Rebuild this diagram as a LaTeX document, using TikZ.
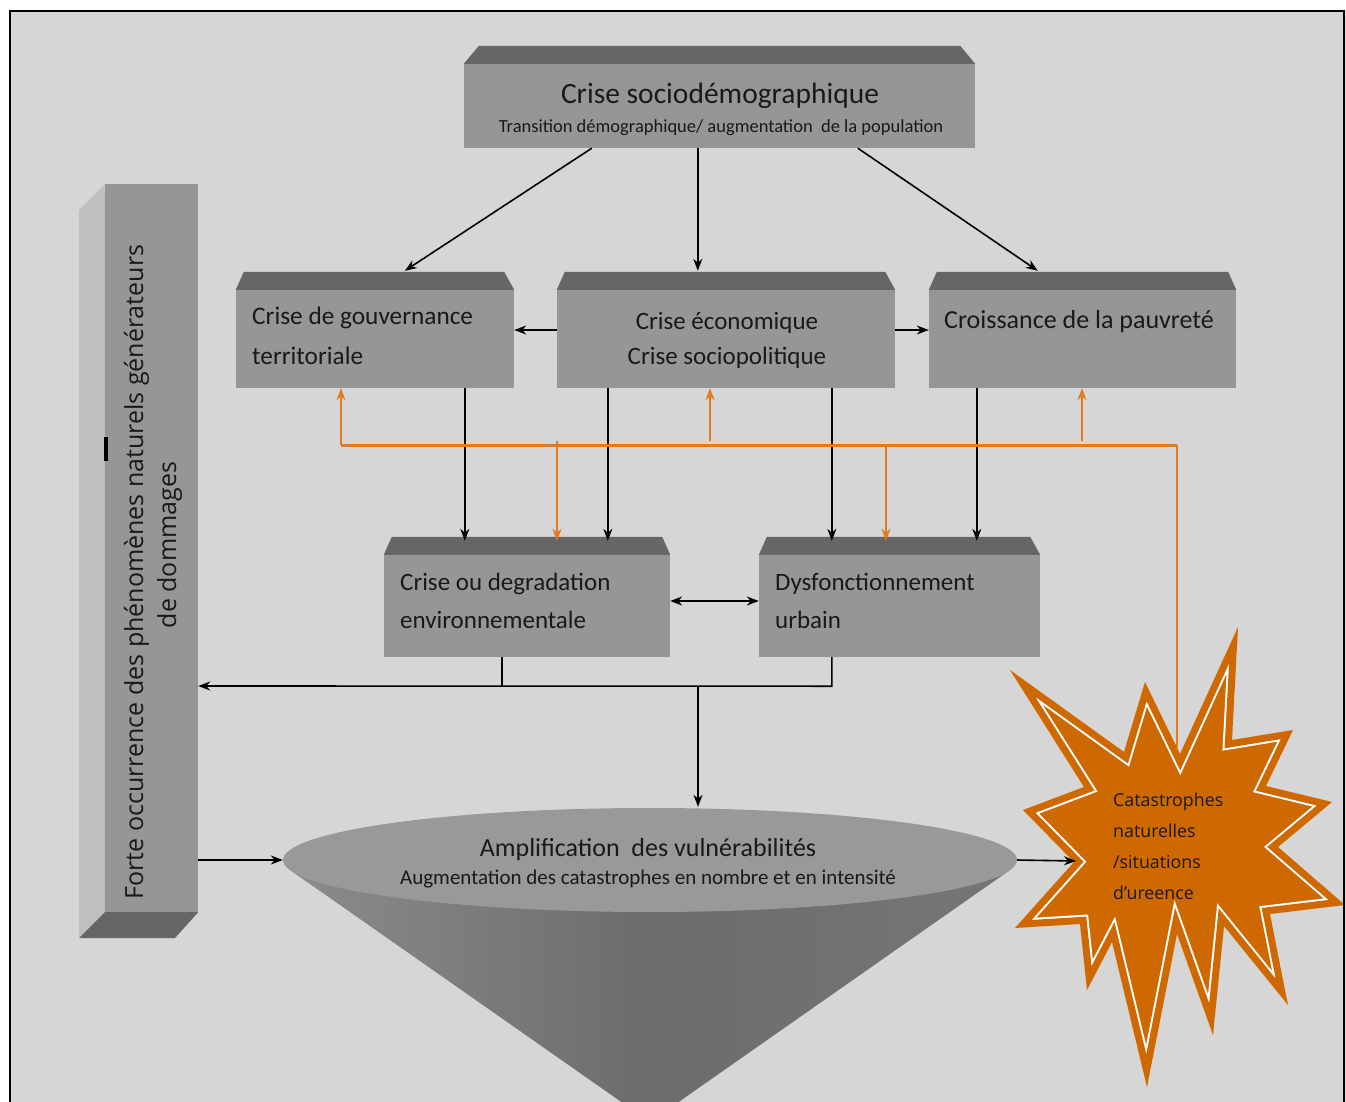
\documentclass[tikz,border=0pt]{standalone}
\usepackage{fontspec}
\setmainfont{Carlito}
\newfontfamily\osans{Open Sans}
\usetikzlibrary{arrows.meta,calc,shapes.geometric}
\definecolor{bg}{RGB}{214,214,214}
\definecolor{frontc}{RGB}{150,150,150}
\definecolor{topc}{RGB}{102,102,102}
\definecolor{sidec}{RGB}{191,191,191}
\definecolor{orl}{RGB}{226,122,30}
\definecolor{starc}{RGB}{206,104,0}
\definecolor{txtc}{RGB}{28,24,24}
\definecolor{ellc}{RGB}{153,153,153}
\definecolor{coneL}{RGB}{140,140,140}
\definecolor{coneM}{RGB}{108,108,108}
\definecolor{coneR}{RGB}{118,118,118}
\newcommand\boxtop[3]{\fill[topc] (#1.north west) -- ++(#2,-18) -- ($(#1.north east)+(-#3,-18)$) -- (#1.north east) -- cycle;}
\newcommand\starpoly[1]{\path[#1] (1010,670) -- (1124,752) -- (1145,682) -- (1180,754) -- (1238,627) -- (1232,740) -- (1293,730) -- (1266,786) -- (1332,802) -- (1278,847) -- (1345,905) -- (1270,914) -- (1288,1005) -- (1224,926) -- (1213,1035) -- (1177,934) -- (1147,1087) -- (1112,942) -- (1087,990) -- (1080,924) -- (1015,928) -- (1074,862) -- (1023,810) -- (1084,787) -- cycle;}
\begin{document}
\begin{tikzpicture}[x=1pt,y=-1pt,
  line/.style={black, line width=1.6pt},
  arr/.style={line, -{Stealth[length=12pt,width=9pt]}},
  dbl/.style={line, {Stealth[length=12pt,width=9pt]}-{Stealth[length=12pt,width=9pt]}},
  oline/.style={orl, line width=1.7pt},
  obus/.style={orl, line width=3pt},
  oarr/.style={oline, -{Stealth[length=12pt,width=9pt]}},
  box/.style={rectangle, fill=frontc, inner sep=0pt},
  bt/.style={text=txtc, inner sep=0pt, font=\fontsize{25}{38}\selectfont},
]
\useasboundingbox (0,0) rectangle (1346,1102);
\fill[white] (0,0) rectangle (1346,1102);
\fill[bg] (10,11) rectangle (1346,1102);

% top box
\node[box, minimum width=511pt, minimum height=84pt] (top) at (719.5,106) {};
\boxtop{top}{15}{15}
\node[bt, anchor=base, font=\fontsize{29.5}{30}\selectfont] (topT) at (720,104) {Crise sociodémographique};
\node[bt, anchor=base, font=\fontsize{18.5}{20}\selectfont] (topS) at (721,133) {Transition démographique/ augmentation\ \ de la population};

% second row
\node[box, minimum width=278pt, minimum height=98pt] (gov) at (375,339) {};
\boxtop{gov}{8}{10}
\node[bt, anchor=base west, align=left, font=\fontsize{25.3}{40}\selectfont] (govT) at (252,364) {Crise de gouvernance\\territoriale};

\node[box, minimum width=338pt, minimum height=98pt] (eco) at (726,339) {};
\boxtop{eco}{8}{10}
\node[bt, anchor=base, align=center, font=\fontsize{25}{35}\selectfont] (ecoT) at (727,364) {Crise économique\\Crise sociopolitique};

\node[box, minimum width=307pt, minimum height=98pt] (pov) at (1082.5,339) {};
\boxtop{pov}{8}{8}
\node[bt, anchor=base west, font=\fontsize{26}{30}\selectfont] (povT) at (944,328) {Croissance de la pauvreté};

% third row
\node[box, minimum width=286pt, minimum height=102pt] (env) at (527,606) {};
\boxtop{env}{8}{8}
\node[bt, anchor=base west, align=left] (envT) at (400,628) {Crise ou degradation\\environnementale};

\node[box, minimum width=281pt, minimum height=102pt] (urb) at (899.5,606) {};
\boxtop{urb}{8}{10}
\node[bt, anchor=base west, align=left] (urbT) at (775,628) {Dysfonctionnement\\urbain};

% left bar
\fill[sidec] (79,210) -- (105,184) -- (105,912) -- (79,938) -- cycle;
\node[box, minimum width=93pt, minimum height=728pt] (bar) at (151.5,548) {};
\fill[topc] (bar.south west) -- (bar.south east) -- (175,938) -- (79,938) -- cycle;
\fill[black] (104,437) rectangle (108,461);
\node[rotate=90, text=txtc, inner sep=0pt, font=\osans\fontsize{25}{33}\selectfont, align=center] (barT) at (153,572) {Forte occurrence des phénomènes naturels générateurs\\\hspace*{54pt}de dommages};

% cone
\shade[left color=coneL, right color=coneR, middle color=coneM] (290,870) -- (650,1122) -- (1010,870) -- cycle;
\node[ellipse, fill=ellc, minimum width=734pt, minimum height=104pt, inner sep=0pt] (cone) at (650,860) {};
\node[bt, anchor=base, font=\fontsize{26}{28}\selectfont] (coneT) at (648,856) {Amplification\ \ des vulnérabilités};
\node[bt, anchor=base, font=\fontsize{21}{22}\selectfont] (coneS) at (648,884) {Augmentation des catastrophes en nombre et en intensité};

% star
\begin{scope}
\starpoly{clip}
\starpoly{fill=starc}
\starpoly{draw=white, line width=18pt, line join=miter}
\starpoly{draw=starc, line width=14pt, line join=miter}
\end{scope}
\coordinate (starL) at (1076,861);
\coordinate (starTop) at (1177,748);
\node[anchor=base west, align=left, inner sep=0pt, text=txtc, font=\osans\fontsize{17.8}{31}\selectfont] (starT) at (1113,899) {Catastrophes\\naturelles\\/situations\\d’ureence};

% black arrows
\draw[arr] ($(top.south west)+(128,0)$) -- ($(gov.north west)+(169,-19)$);
\draw[arr] ($(top.south west)+(234,0)$) -- ($(eco.north west)+(141,-19)$);
\draw[arr] ($(top.south west)+(394,0)$) -- ($(pov.north west)+(109,-19)$);
\draw[arr] ([yshift=9pt]eco.west) -- ([yshift=9pt]gov.east);
\draw[arr] ([yshift=9pt]eco.east) -- ([yshift=9pt]pov.west);
\draw[arr] ($(gov.south west)+(229,0)$) -- ($(env.north west)+(81,-14)$);
\draw[arr] ($(eco.south west)+(51,0)$) -- ($(env.north west)+(224,-14)$);
\draw[arr] ($(eco.south west)+(275,0)$) -- ($(urb.north west)+(73,-14)$);
\draw[arr] ($(pov.south west)+(48,0)$) -- ($(urb.north west)+(218,-14)$);
\draw[dbl] ([yshift=5pt]env.east) -- ([yshift=5pt]urb.west);

% orange
\coordinate (busL) at (341,445);
\coordinate (busR) at (1177,445);
\coordinate (o1) at (710,441);
\coordinate (o2) at (1082,441);
\coordinate (d1) at (557,441);
\coordinate (d2) at (886,445);
\draw[obus] (busL) -- (busR);
\draw[oline] (busR) -- (starTop);
\draw[oarr] (busL) -- (busL |- gov.south);
\draw[oarr] (o1) -- (o1 |- eco.south);
\draw[oarr] (o2) -- (o2 |- pov.south);
\draw[oarr] (d1) -- ($(d1 |- env.north)+(0,-14)$);
\draw[oarr] (d2) -- ($(d2 |- urb.north)+(0,-14)$);

% bottom connectors
\coordinate (j) at (698,686);
\draw[line] ($(env.south west)+(118,0)$) -- ++(0,29);
\draw[arr] ($(urb.south west)+(73,0)$) -- ++(0,29) -- (j -| bar.east);
\draw[arr] (j) -- ($(j |- cone.north)+(0,-1)$);
\draw[arr] (bar.east |- cone.west) -- (cone.west);
\draw[arr] (cone.east) -- (starL);

% frame
\draw[line width=2.5pt] (10,1102) -- (10,11) -- (1344,11) -- (1344,1102);
\end{tikzpicture}
\end{document}
